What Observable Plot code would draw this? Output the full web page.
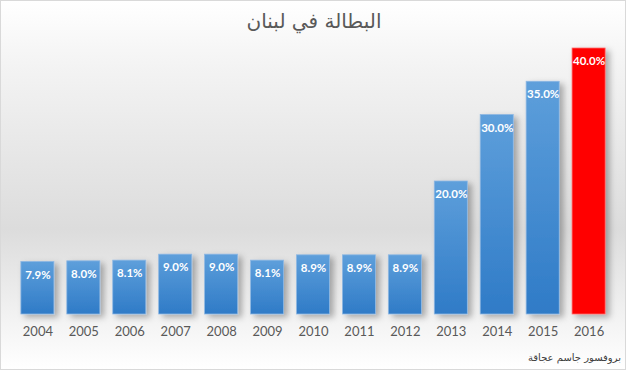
<!DOCTYPE html>
<html><head><meta charset="utf-8">
<script src="https://cdn.jsdelivr.net/npm/d3@7"></script>
<script src="https://cdn.jsdelivr.net/npm/@observablehq/plot@0.6"></script>
<style>
body{margin:0;background:#fff;}
#wrap{position:relative;width:624px;height:368px;border:1px solid #d9d9d9;
 background:linear-gradient(#ffffff 0%, #f3f3f3 18%, #dcdcdc 62%, #f4f4f4 88%, #ffffff 100%);overflow:hidden;}
#title{position:absolute;top:8px;left:0;width:626px;text-align:center;font:20px "DejaVu Sans",sans-serif;color:#595959;direction:rtl;}
#cap{position:absolute;right:4px;bottom:6px;font:10px "DejaVu Sans",sans-serif;color:#404040;direction:rtl;}
#chart svg{display:block;}
</style></head>
<body>
<div id="wrap"><div id="title">البطالة في لبنان</div><div id="chart"></div><div id="cap">بروفسور جاسم عجاقة</div></div>
<script>
const years = [2004,2005,2006,2007,2008,2009,2010,2011,2012,2013,2014,2015,2016];
const rates = [7.9,8.0,8.1,9.0,9.0,8.1,8.9,8.9,8.9,20.0,30.0,35.0,40.0];
const highlightYear = 2016;
const data = years.map((y,i)=>({year:String(y), value:rates[i]}));

const chart = Plot.plot({
  width:624, height:368,
  marginLeft:7, marginRight:7, marginTop:47, marginBottom:55,
  style:{background:"transparent", fontFamily:"Lato, 'Open Sans', sans-serif", overflow:"visible"},
  x:{domain:years.map(String), padding:0.28, round:false, label:null},
  y:{domain:[0,40], axis:null},
  marks:[
    Plot.barY(data.filter(d=>+d.year!==highlightYear), {x:"year", y:"value", fill:"url(#blueGrad)", stroke:"#8fb8e3", strokeWidth:0.8}),
    Plot.barY(data.filter(d=>+d.year===highlightYear), {x:"year", y:"value", fill:"#ff0000", stroke:"#ff6b6b", strokeWidth:0.8}),
    Plot.text(data, {x:"year", y:"value", text:d=>d.value.toFixed(1)+"%", dy:13, fill:"white", fontWeight:"bold", fontSize:11.5}),
    Plot.axisX({tickSize:0, tickPadding:12, fontSize:13, color:"#595959"})
  ]
});
d3.select(chart).insert("defs",":first-child").html(`
  <linearGradient id="blueGrad" x1="0" y1="0" x2="0" y2="1">
    <stop offset="0" stop-color="#5e9fdb"/>
    <stop offset="1" stop-color="#2f7bc7"/>
  </linearGradient>
  <filter id="shadow" x="-30%" y="-30%" width="180%" height="160%">
    <feDropShadow dx="4" dy="3" stdDeviation="3" flood-color="#000" flood-opacity="0.3"/>
  </filter>`);
d3.select(chart).selectAll("g[aria-label='bar']").attr("filter","url(#shadow)");
document.getElementById("chart").appendChild(chart);
</script>
</body></html>
